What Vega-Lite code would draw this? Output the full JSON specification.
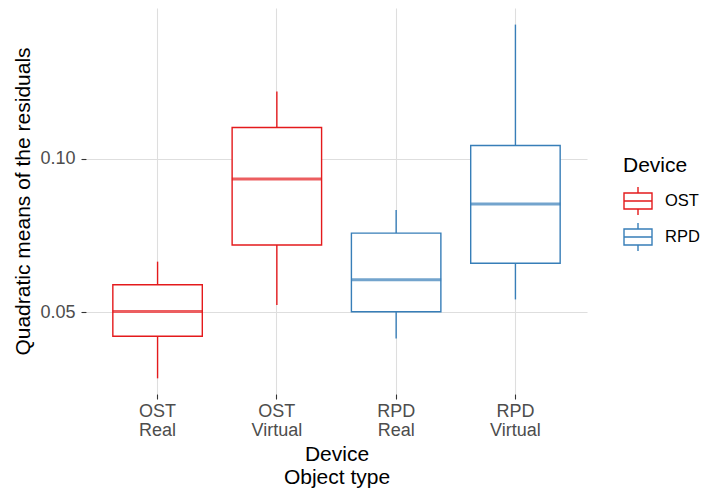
{
  "$schema": "https://vega.github.io/schema/vega-lite/v6.json",
  "width": 501,
  "height": 386,
  "autosize": {"type": "none"},
  "padding": {"left": 86, "top": 8, "right": 117, "bottom": 104},
  "background": "white",
  "config": {
    "view": {"stroke": null},
    "font": "Liberation Sans",
    "axis": {
      "domain": false,
      "grid": true,
      "gridColor": "#DEDEDE",
      "gridWidth": 1.1,
      "tickColor": "#333333",
      "tickSize": 5,
      "tickWidth": 1.1,
      "labelColor": "#4D4D4D",
      "labelFontSize": 18,
      "titleFontSize": 21,
      "titleFontWeight": "normal",
      "titleColor": "#000000"
    },
    "legend": {
      "titleFontSize": 21,
      "titleFontWeight": "normal",
      "titleColor": "#000000",
      "labelFontSize": 16.5,
      "labelColor": "#000000"
    }
  },
  "data": {
    "values": [
      {"group": "OST Real", "device": "OST", "lower": 0.0285, "q1": 0.0422, "median": 0.0503, "q3": 0.0590, "upper": 0.0665},
      {"group": "OST Virtual", "device": "OST", "lower": 0.0524, "q1": 0.0719, "median": 0.0934, "q3": 0.1102, "upper": 0.1219},
      {"group": "RPD Real", "device": "RPD", "lower": 0.0415, "q1": 0.0502, "median": 0.0606, "q3": 0.0758, "upper": 0.0833},
      {"group": "RPD Virtual", "device": "RPD", "lower": 0.0542, "q1": 0.0660, "median": 0.0853, "q3": 0.1043, "upper": 0.1437}
    ]
  },
  "encoding": {
    "x": {
      "field": "group",
      "type": "nominal",
      "sort": null,
      "scale": {"paddingInner": 0, "paddingOuter": 0.1},
      "title": ["Device", "Object type"],
      "axis": {
        "labelAngle": 0,
        "labelExpr": "split(datum.label, ' ')",
        "labelLineHeight": 19,
        "labelPadding": 3,
        "bandPosition": 0.5,
        "titleLineHeight": 23,
        "titlePadding": 4
      }
    },
    "color": {
      "field": "device",
      "type": "nominal",
      "scale": {"domain": ["OST", "RPD"], "range": ["#E41A1C", "#377EB8"]},
      "legend": {
        "title": "Device",
        "orient": "none",
        "legendX": 537,
        "legendY": 147,
        "titlePadding": 10,
        "rowPadding": 2,
        "symbolType": "M0,-1L0,-0.57M-1,-0.57L1,-0.57L1,0.57L-1,0.57ZM-1,0L1,0M0,0.57L0,1",
        "symbolSize": 784,
        "symbolStrokeWidth": 1.4,
        "labelOffset": 12
      }
    }
  },
  "layer": [
    {
      "mark": {"type": "rule", "strokeWidth": 1.4},
      "encoding": {
        "y": {
          "field": "lower",
          "type": "quantitative",
          "scale": {"domain": [0.0234, 0.1491], "nice": false, "zero": false},
          "title": "Quadratic means of the residuals",
          "axis": {"values": [0.05, 0.1], "format": ".2f", "labelPadding": 6, "titlePadding": 6}
        },
        "y2": {"field": "q1"}
      }
    },
    {
      "mark": {"type": "rule", "strokeWidth": 1.4},
      "encoding": {
        "y": {"field": "q3", "type": "quantitative"},
        "y2": {"field": "upper"}
      }
    },
    {
      "mark": {"type": "bar", "filled": false, "fill": "white", "strokeWidth": 1.4, "width": {"band": 0.75}},
      "encoding": {
        "y": {"field": "q1", "type": "quantitative"},
        "y2": {"field": "q3"}
      }
    },
    {
      "mark": {"type": "tick", "filled": false, "size": 88, "thickness": 1, "strokeWidth": 2},
      "encoding": {
        "y": {"field": "median", "type": "quantitative"}
      }
    }
  ]
}
